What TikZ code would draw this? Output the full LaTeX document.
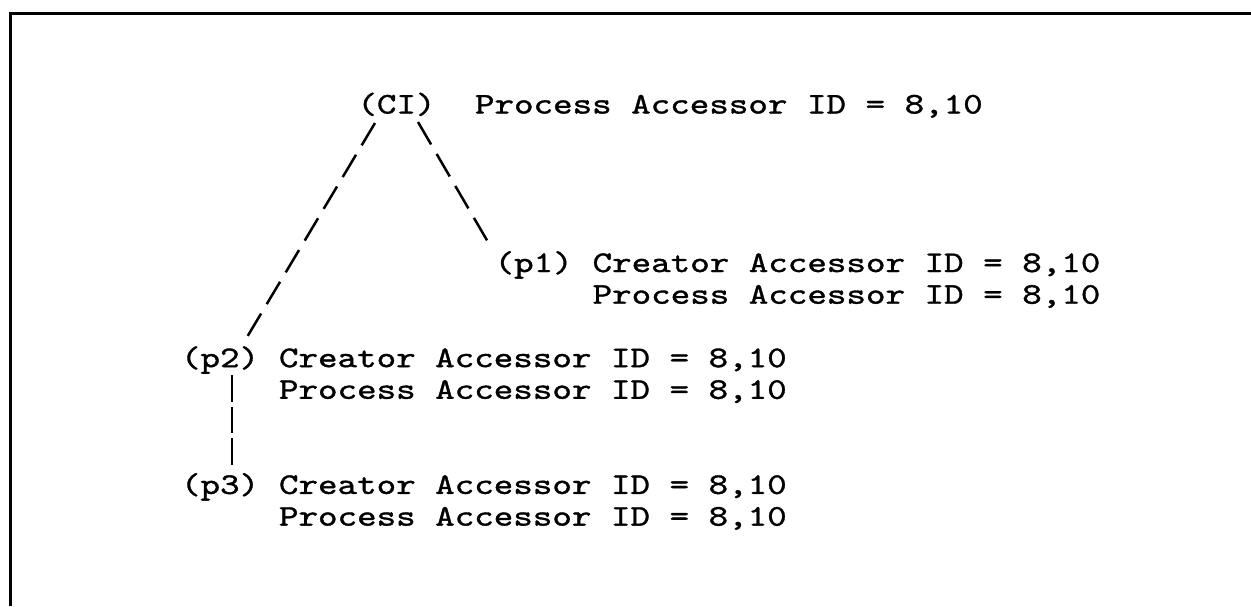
\documentclass[tikz,border=0pt]{standalone}
\usepackage{fontspec}
\newfontfamily\tw{lmmono10-regular.otf}[FakeStretch=1.24,FakeBold=1.2]
\begin{document}
\begin{tikzpicture}[x=0.6pt,y=-0.6pt,
  txt/.style={anchor=base west,inner sep=0pt,outer sep=0pt,font=\tw\fontsize{18}{19}\selectfont},
  slashline/.style={line width=1.5pt,dash pattern=on 15.6pt off 6.6pt},
  barline/.style={line width=1.5pt,dash pattern=on 16pt off 3pt},
  frameline/.style={line width=1.8pt}]
\useasboundingbox (0,0) rectangle (1251,606);
\draw[frameline] (10.5,606) -- (10.5,13) -- (1251,13);
% nodes
\node[txt] (ci)  at (357.4,113.5) {(CI)};
\node[txt] (cit) at (475,113.5) {Process Accessor ID = 8,10};
\node[txt] (p1)  at (494.6,272) {(p1)};
\node[txt] (p1a) at (592.6,272) {Creator Accessor ID = 8,10};
\node[txt] (p1b) at (592.6,303.7) {Process Accessor ID = 8,10};
\node[txt] (p2)  at (181,367.1) {(p2)};
\node[txt] (p2a) at (279,367.1) {Creator Accessor ID = 8,10};
\node[txt] (p2b) at (279,398.8) {Process Accessor ID = 8,10};
\node[txt] (p3)  at (181,493.9) {(p3)};
\node[txt] (p3a) at (279,493.9) {Creator Accessor ID = 8,10};
\node[txt] (p3b) at (279,525.6) {Process Accessor ID = 8,10};
% connectors
\draw[slashline] ([shift={(17.6,9.5)}]ci.base west) -- ([shift={(66,-30)}]p2.base west);
\draw[slashline] ([shift={(60.6,8.5)}]ci.base west) -- ([shift={(-6.6,-30)}]p1.base west);
\draw[barline] ([shift={(51,8)}]p2.base west) -- ([shift={(51,-29)}]p3.base west);
\end{tikzpicture}
\end{document}
